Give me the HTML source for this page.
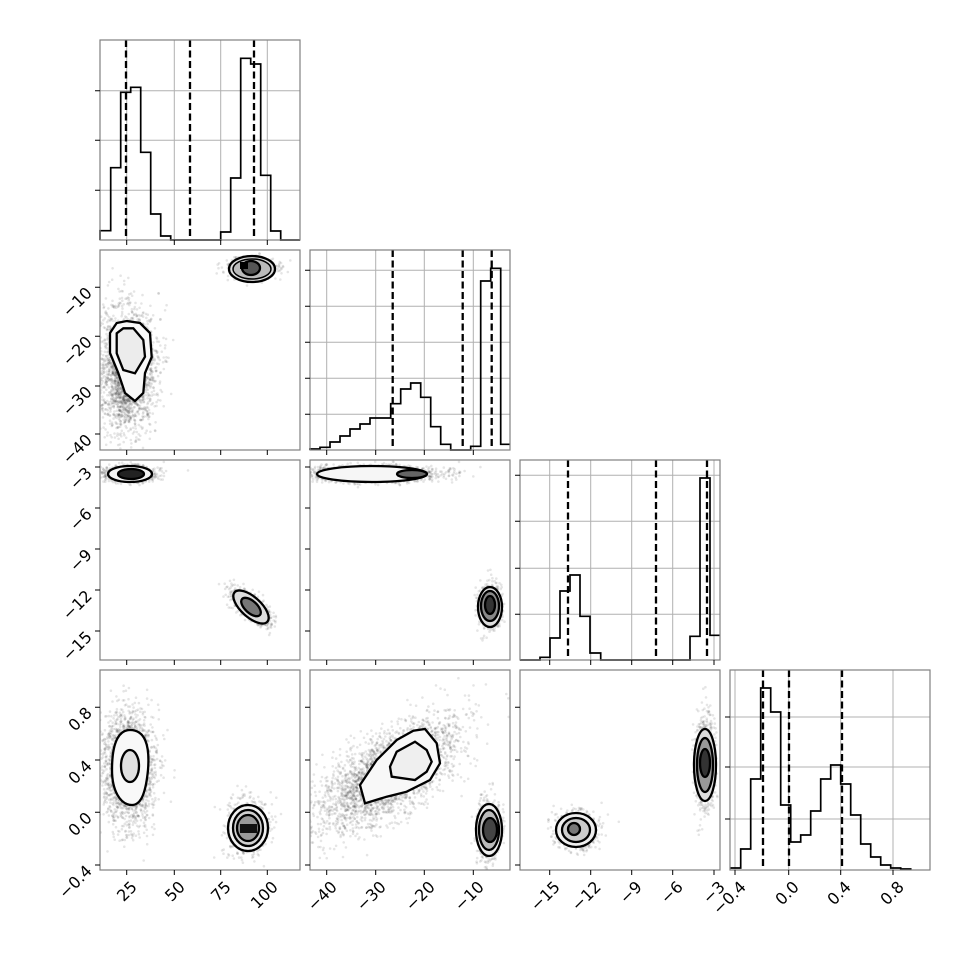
<!DOCTYPE html>
<html><head><meta charset="utf-8"><style>
html,body{margin:0;padding:0;background:#fff}
svg{display:block}
text{font-family:"DejaVu Sans","Liberation Sans",sans-serif;font-size:16px;fill:#000}
</style></head><body>
<svg id="s" width="970" height="970" viewBox="0 0 970 970" xmlns="http://www.w3.org/2000/svg">
<defs>
<clipPath id="c01"><rect x="100" y="250" width="200" height="200"/></clipPath>
<clipPath id="c02"><rect x="100" y="460" width="200" height="200"/></clipPath>
<clipPath id="c03"><rect x="100" y="670" width="200" height="200"/></clipPath>
<clipPath id="c12"><rect x="310" y="460" width="200" height="200"/></clipPath>
<clipPath id="c13"><rect x="310" y="670" width="200" height="200"/></clipPath>
<clipPath id="c23"><rect x="520" y="670" width="200" height="200"/></clipPath>
</defs>
<rect width="970" height="970" fill="#fff"/>

<g stroke="#b0b0b0" stroke-width="1">
<line x1="126.7" y1="40" x2="126.7" y2="240"/><line x1="174.3" y1="40" x2="174.3" y2="240"/><line x1="220.7" y1="40" x2="220.7" y2="240"/><line x1="267.3" y1="40" x2="267.3" y2="240"/>
<line x1="100" y1="90.7" x2="300" y2="90.7"/><line x1="100" y1="140.3" x2="300" y2="140.3"/><line x1="100" y1="190.3" x2="300" y2="190.3"/>
<line x1="326.7" y1="250" x2="326.7" y2="450"/><line x1="375.7" y1="250" x2="375.7" y2="450"/><line x1="424.3" y1="250" x2="424.3" y2="450"/><line x1="473.3" y1="250" x2="473.3" y2="450"/>
<line x1="310" y1="270.3" x2="510" y2="270.3"/><line x1="310" y1="306.3" x2="510" y2="306.3"/><line x1="310" y1="342.3" x2="510" y2="342.3"/><line x1="310" y1="378.3" x2="510" y2="378.3"/><line x1="310" y1="414.3" x2="510" y2="414.3"/>
<line x1="549.7" y1="460" x2="549.7" y2="660"/><line x1="590.7" y1="460" x2="590.7" y2="660"/><line x1="631.7" y1="460" x2="631.7" y2="660"/><line x1="672.7" y1="460" x2="672.7" y2="660"/><line x1="714" y1="460" x2="714" y2="660"/>
<line x1="520" y1="475.3" x2="720" y2="475.3"/><line x1="520" y1="521.3" x2="720" y2="521.3"/><line x1="520" y1="568.3" x2="720" y2="568.3"/><line x1="520" y1="614.3" x2="720" y2="614.3"/>
<line x1="735" y1="670" x2="735" y2="870"/><line x1="788.7" y1="670" x2="788.7" y2="870"/><line x1="840.7" y1="670" x2="840.7" y2="870"/><line x1="893" y1="670" x2="893" y2="870"/>
<line x1="730" y1="717" x2="930" y2="717"/><line x1="730" y1="767" x2="930" y2="767"/><line x1="730" y1="819" x2="930" y2="819"/>
</g>

<g fill="none" stroke="#000" stroke-width="1.7">
<path d="M100,240 V230.7 H110.7 V167.7 H120.7 V92.3 H130.7 V87.3 H140.7 V152.3 H150.7 V214 H160.7 V236 H170.7 V240 H220.7 V232 H230.7 V178 H240.7 V58.3 H250.7 V64 H260.7 V175.3 H270.7 V231 H280.7 V240 H300"/>
<path d="M310,450 V449 H320 V447.3 H330 V442 H340 V436 H350 V429 H360 V424 H370 V418 H380 V418 H390.7 V403.7 H400.7 V389 H410.7 V383 H420.7 V397.3 H430.7 V426.7 H440.7 V444.3 H450.7 V450 H470.7 V446.3 H480.7 V281 H490.7 V268.3 H500.7 V444.3 H510"/>
<path d="M520,660 H540 V657.3 H550 V638 H560 V591 H570 V575 H580 V616.3 H590 V653 H600.7 V660 H690 V636.3 H700 V478 H710 V635.3 H720"/>
<path d="M730,868 H740.7 V849 H750.7 V779 H760.7 V688 H770.7 V712 H780.7 V805 H790.7 V842 H800.7 V835 H810.7 V811 H820.7 V779 H830.7 V765 H840.7 V784 H850.7 V815 H860.7 V844 H870.7 V857 H880.7 V865 H890.7 V868 H900.7 V869 H910.7 V870"/>
</g>
<g stroke="#000" stroke-width="2.3" stroke-dasharray="7,3.5">
<line x1="126" y1="40" x2="126" y2="240"/><line x1="190" y1="40" x2="190" y2="240"/><line x1="254" y1="40" x2="254" y2="240"/>
<line x1="392.7" y1="250" x2="392.7" y2="450"/><line x1="462.7" y1="250" x2="462.7" y2="450"/><line x1="491.7" y1="250" x2="491.7" y2="450"/>
<line x1="568" y1="460" x2="568" y2="660"/><line x1="656" y1="460" x2="656" y2="660"/><line x1="707" y1="460" x2="707" y2="660"/>
<line x1="763" y1="670" x2="763" y2="870"/><line x1="789" y1="670" x2="789" y2="870"/><line x1="842" y1="670" x2="842" y2="870"/>
</g>

<g id="dots"></g>

<g stroke="#000" stroke-width="2.3">
<path fill="#f8f8f8" d="M110,333 L116.7,323 L126.7,321 L140,323 L150,333 L151.7,357 L145,373 L143.3,393 L135,401 L125,393 L118.3,373 L110,353 Z"/>
<path fill="#ececec" d="M116.7,333.3 L123.3,328.3 L133.3,328.3 L143.3,340 L145,356.7 L135,373.3 L123.3,370 L116.7,353.3 Z"/>
<ellipse cx="252" cy="269" rx="23" ry="13" fill="#ddd"/>
<ellipse cx="252" cy="269" rx="19" ry="10" fill="#bbb" stroke-width="1.5"/>
<ellipse cx="251" cy="268" rx="9" ry="7" fill="#555"/>
<rect x="240" y="262" width="8" height="7" fill="#000" stroke="none"/>
<ellipse cx="130" cy="474" rx="22" ry="8" fill="#f4f4f4"/>
<ellipse cx="131" cy="474" rx="13" ry="5" fill="#222"/>
<ellipse cx="251" cy="607" rx="22" ry="10" transform="rotate(42 251 607)" fill="#ddd"/>
<ellipse cx="251" cy="607" rx="12" ry="6" transform="rotate(42 251 607)" fill="#777"/>
<path fill="#f8f8f8" d="M112,770 C112,740 120,730 130,730 C145,730 150,745 148,770 C146,790 142,805 132,805 C120,805 112,790 112,770 Z"/>
<ellipse cx="130" cy="766" rx="9" ry="16" fill="#e0e0e0"/>
<ellipse cx="248" cy="828" rx="20" ry="23" fill="#f0f0f0"/>
<ellipse cx="248" cy="828" rx="15" ry="18" fill="#d0d0d0"/>
<ellipse cx="248" cy="828" rx="11" ry="13" fill="#999"/>
<rect x="240" y="824" width="17" height="9" fill="#111" stroke="none"/>
<ellipse cx="372" cy="474" rx="55" ry="8" fill="#f6f6f6"/>
<ellipse cx="412" cy="474" rx="15" ry="4" fill="#666"/>
<ellipse cx="490" cy="607" rx="12" ry="20" fill="#ddd"/>
<ellipse cx="490" cy="606" rx="9" ry="15" fill="#888"/>
<ellipse cx="490" cy="605" rx="5" ry="9" fill="#333"/>
<path fill="#f8f8f8" d="M360,785 L376.7,760 L396.7,740 L413.3,730.7 L425,729 L436.7,743.3 L440,763.3 L430,780 L406.7,791.7 L386.7,796.7 L365,803.3 Z"/>
<path fill="#efefef" d="M390,766.7 L396.7,751.7 L415,741.7 L426.7,750 L431.7,761.7 L426.7,771.7 L415,780 L391.7,776.7 Z"/>
<ellipse cx="489" cy="830" rx="13" ry="26" fill="#eee"/>
<ellipse cx="489" cy="830" rx="10" ry="20" fill="#bbb"/>
<ellipse cx="490" cy="830" rx="7" ry="12" fill="#444"/>
<ellipse cx="576" cy="830" rx="20" ry="17" fill="#eee"/>
<ellipse cx="576" cy="830" rx="14" ry="12" fill="#ccc"/>
<ellipse cx="574" cy="829" rx="6" ry="6" fill="#777"/>
<ellipse cx="705" cy="765" rx="11" ry="36" fill="#ddd"/>
<ellipse cx="705" cy="765" rx="8" ry="27" fill="#999"/>
<ellipse cx="705" cy="763" rx="5" ry="14" fill="#333"/>
</g>

<g fill="none" stroke="#808080" stroke-width="1.2">
<rect x="100" y="40" width="200" height="200"/>
<rect x="100" y="250" width="200" height="200"/><rect x="310" y="250" width="200" height="200"/>
<rect x="100" y="460" width="200" height="200"/><rect x="310" y="460" width="200" height="200"/><rect x="520" y="460" width="200" height="200"/>
<rect x="100" y="670" width="200" height="200"/><rect x="310" y="670" width="200" height="200"/><rect x="520" y="670" width="200" height="200"/><rect x="730" y="670" width="200" height="200"/>
</g>

<g stroke="#000" stroke-width="1">
<path d="M126.7,240v5M174.3,240v5M220.7,240v5M267.3,240v5 M126.7,450v5M174.3,450v5M220.7,450v5M267.3,450v5 M126.7,660v5M174.3,660v5M220.7,660v5M267.3,660v5 M126.7,870v5M174.3,870v5M220.7,870v5M267.3,870v5"/>
<path d="M326.7,450v5M375.7,450v5M424.3,450v5M473.3,450v5 M326.7,660v5M375.7,660v5M424.3,660v5M473.3,660v5 M326.7,870v5M375.7,870v5M424.3,870v5M473.3,870v5"/>
<path d="M549.7,660v5M590.7,660v5M631.7,660v5M672.7,660v5M714,660v5 M549.7,870v5M590.7,870v5M631.7,870v5M672.7,870v5M714,870v5"/>
<path d="M735,870v5M788.7,870v5M840.7,870v5M893,870v5"/>
<path d="M100,90.7h-5M100,140.3h-5M100,190.3h-5"/>
<path d="M100,287.3h-5M100,336.3h-5M100,386h-5M100,434h-5 M310,270.3h-5M310,306.3h-5M310,342.3h-5M310,378.3h-5M310,414.3h-5"/>
<path d="M100,467h-5M100,508h-5M100,549h-5M100,590h-5M100,631h-5 M310,467h-5M310,508h-5M310,549h-5M310,590h-5M310,631h-5 M520,475.3h-5M520,521.3h-5M520,568.3h-5M520,614.3h-5"/>
<path d="M100,707.3h-5M100,760h-5M100,812.3h-5M100,865h-5 M310,707.3h-5M310,760h-5M310,812.3h-5M310,865h-5 M520,707.3h-5M520,760h-5M520,812.3h-5M520,865h-5 M730,717h-5M730,767h-5M730,819h-5"/>
</g>

<g text-anchor="end">
<text transform="translate(89,290) rotate(-45)" dy="0.35em">−10</text>
<text transform="translate(89,339) rotate(-45)" dy="0.35em">−20</text>
<text transform="translate(89,389) rotate(-45)" dy="0.35em">−30</text>
<text transform="translate(89,437) rotate(-45)" dy="0.35em">−40</text>
<text transform="translate(89,470) rotate(-45)" dy="0.35em">−3</text>
<text transform="translate(89,511) rotate(-45)" dy="0.35em">−6</text>
<text transform="translate(89,552) rotate(-45)" dy="0.35em">−9</text>
<text transform="translate(89,593) rotate(-45)" dy="0.35em">−12</text>
<text transform="translate(89,634) rotate(-45)" dy="0.35em">−15</text>
<text transform="translate(89,710) rotate(-45)" dy="0.35em">0.8</text>
<text transform="translate(89,763) rotate(-45)" dy="0.35em">0.4</text>
<text transform="translate(89,815) rotate(-45)" dy="0.35em">0.0</text>
<text transform="translate(89,868) rotate(-45)" dy="0.35em">−0.4</text>
</g>
<g text-anchor="end">
<text transform="translate(134,884) rotate(-45)" dy="0.35em">25</text>
<text transform="translate(182,884) rotate(-45)" dy="0.35em">50</text>
<text transform="translate(228,884) rotate(-45)" dy="0.35em">75</text>
<text transform="translate(275,884) rotate(-45)" dy="0.35em">100</text>
<text transform="translate(334,884) rotate(-45)" dy="0.35em">−40</text>
<text transform="translate(383,884) rotate(-45)" dy="0.35em">−30</text>
<text transform="translate(432,884) rotate(-45)" dy="0.35em">−20</text>
<text transform="translate(481,884) rotate(-45)" dy="0.35em">−10</text>
<text transform="translate(557,884) rotate(-45)" dy="0.35em">−15</text>
<text transform="translate(598,884) rotate(-45)" dy="0.35em">−12</text>
<text transform="translate(639,884) rotate(-45)" dy="0.35em">−9</text>
<text transform="translate(680,884) rotate(-45)" dy="0.35em">−6</text>
<text transform="translate(722,884) rotate(-45)" dy="0.35em">−3</text>
<text transform="translate(743,884) rotate(-45)" dy="0.35em">−0.4</text>
<text transform="translate(796,884) rotate(-45)" dy="0.35em">0.0</text>
<text transform="translate(848,884) rotate(-45)" dy="0.35em">0.4</text>
<text transform="translate(901,884) rotate(-45)" dy="0.35em">0.8</text>
</g>
</svg>
<script>
(function(){
var seed=12345;function r(){seed=(seed*1103515245+12345)%2147483648;return seed/2147483648;}
function g(){var u=r()||1e-9,v=r();return Math.sqrt(-2*Math.log(u))*Math.cos(2*Math.PI*v);}
var NS="http://www.w3.org/2000/svg",host=document.getElementById("dots");
var C=[["c01",127,370,14,30,0,2500],["c01",252,269,12,5,0,600],
["c02",128,474,14,4,0,800],["c02",251,607,13,5,42,700],
["c03",128,768,13,28,0,2200],["c03",248,828,10,14,0,800],
["c12",372,474,34,4,0,1500],["c12",490,607,6,11,0,600],
["c13",388,775,40,18,-35,3000],["c13",489,830,6,15,0,700],
["c23",576,830,10,9,0,700],["c23",705,765,5,23,0,800]];
C.forEach(function(c){var grp=document.createElementNS(NS,"g");grp.setAttribute("clip-path","url(#"+c[0]+")");
grp.setAttribute("fill","#000");grp.setAttribute("fill-opacity","0.1");
var a=c[5]*Math.PI/180,ca=Math.cos(a),sa=Math.sin(a);
for(var i=0;i<c[6];i++){var x=g()*c[3],y=g()*c[4];var X=c[1]+x*ca-y*sa,Y=c[2]+x*sa+y*ca;
var e=document.createElementNS(NS,"circle");e.setAttribute("cx",X.toFixed(1));e.setAttribute("cy",Y.toFixed(1));e.setAttribute("r","1.3");grp.appendChild(e);}
host.appendChild(grp);});
})();
</script>
</body></html>
